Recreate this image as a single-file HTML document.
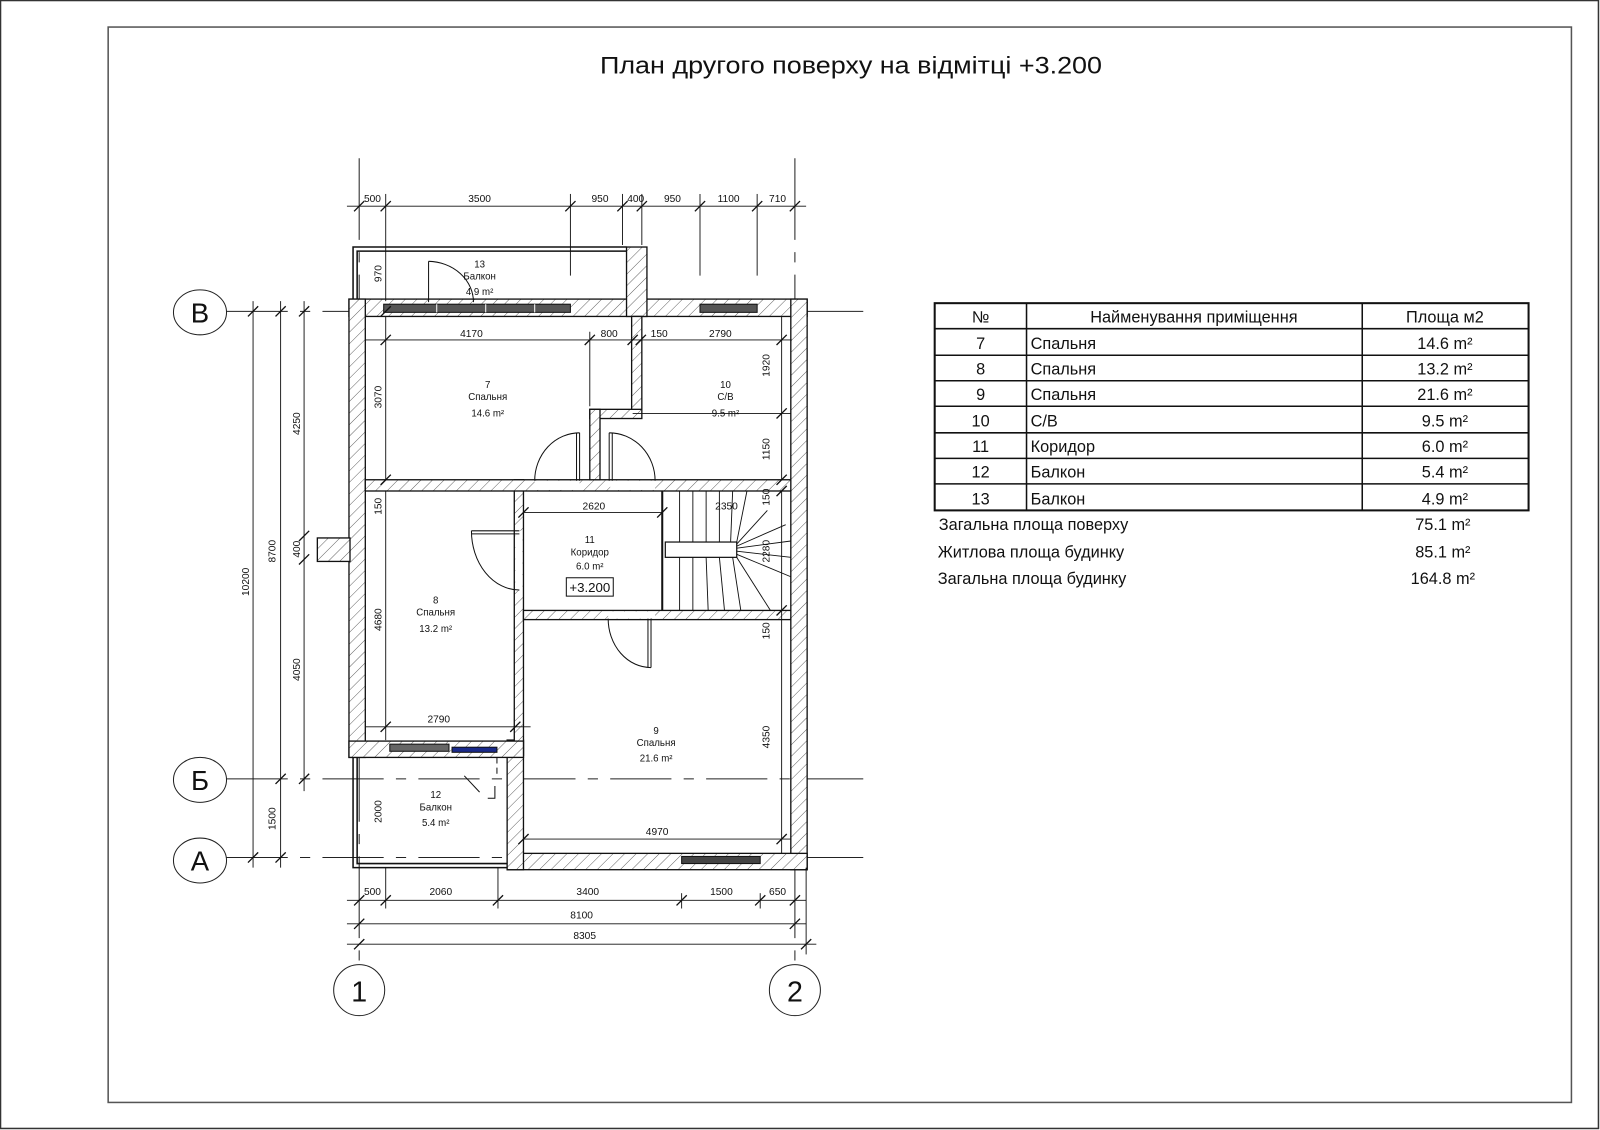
<!DOCTYPE html>
<html><head><meta charset="utf-8"><style>
html,body{margin:0;padding:0;background:#fff;}
svg{display:block;}
text{font-family:"Liberation Sans",sans-serif;fill:#111;}
.d{font-size:10px;}
.r{font-size:9.5px;}
.t{font-size:16px;}
</style></head><body>
<svg width="1600" height="1130" viewBox="0 0 1568 1107" preserveAspectRatio="none" xmlns="http://www.w3.org/2000/svg">
<defs>
<pattern id="h" width="8" height="8" patternUnits="userSpaceOnUse" patternTransform="rotate(45)">
<rect width="8" height="8" fill="#fff"/><line x1="0" y1="0" x2="0" y2="8" stroke="#555" stroke-width="0.9"/>
</pattern>
</defs>
<rect x="0.5" y="0.5" width="1566" height="1105" fill="none" stroke="#333" stroke-width="1.5"/>
<rect x="106" y="26.5" width="1434" height="1053.5" fill="none" stroke="#555" stroke-width="1.5"/>
<text x="588" y="72" font-size="24" textLength="492" lengthAdjust="spacingAndGlyphs">План другого поверху на відмітці +3.200</text>

<!-- grid lines -->
<g stroke="#222" stroke-width="1" fill="none">
<line x1="222" y1="305" x2="850" y2="305" stroke-dasharray="60,12,10,12"/>
<line x1="222" y1="763" x2="850" y2="763" stroke-dasharray="60,12,10,12"/>
<line x1="222" y1="840" x2="850" y2="840" stroke-dasharray="60,12,10,12"/>
<line x1="352" y1="155" x2="352" y2="945" stroke-dasharray="80,12,10,12"/>
<line x1="779" y1="155" x2="779" y2="945" stroke-dasharray="80,12,10,12"/>
<ellipse cx="196" cy="306" rx="26" ry="22"/>
<ellipse cx="196" cy="764" rx="26" ry="22"/>
<ellipse cx="196" cy="843" rx="26" ry="22"/>
<circle cx="352" cy="970" r="25"/>
<circle cx="779" cy="970" r="25"/>
</g>
<text x="196" y="316" font-size="27" text-anchor="middle">В</text>
<text x="196" y="774" font-size="27" text-anchor="middle">Б</text>
<text x="196" y="853" font-size="27" text-anchor="middle">А</text>
<text x="352" y="981" font-size="28" text-anchor="middle">1</text>
<text x="779" y="981" font-size="28" text-anchor="middle">2</text>

<!-- walls -->
<g fill="url(#h)" stroke="#111" stroke-width="1.3">
<rect x="342" y="293" width="449" height="17"/>
<rect x="342" y="293" width="16" height="449"/>
<rect x="775" y="293" width="16" height="559"/>
<rect x="497" y="836" width="294" height="16"/>
<rect x="497" y="725" width="16" height="127"/>
<rect x="504" y="470" width="9" height="270"/>
<rect x="342" y="726" width="171" height="16"/>
<rect x="358" y="470" width="417" height="11"/>
<rect x="614" y="242" width="20" height="68"/>
<rect x="619" y="310" width="10" height="99"/>
<rect x="578" y="401" width="51" height="9"/>
<rect x="578" y="401" width="10" height="69"/>
<rect x="513" y="598" width="262" height="9"/>
<rect x="311" y="527" width="32" height="23"/>
</g>
<!-- windows / openings -->
<g stroke="#111" stroke-width="1">
<rect x="376" y="298" width="183" height="8" fill="#555"/>
<line x1="428" y1="298" x2="428" y2="306" stroke="#fff"/>
<line x1="476" y1="298" x2="476" y2="306" stroke="#fff"/>
<line x1="524" y1="298" x2="524" y2="306" stroke="#fff"/>
<rect x="686" y="298" width="56" height="8" fill="#555"/>
<rect x="668" y="839" width="77" height="7" fill="#444"/>
<rect x="382" y="729" width="58" height="7" fill="#666"/>
<rect x="443" y="732" width="44" height="5" fill="#1a2a8a"/>
</g>
<g fill="#fff" stroke="none">
<rect x="524" y="471" width="44" height="9"/>
<rect x="598" y="471" width="44" height="9"/>
<rect x="505" y="520" width="7" height="58"/>
<rect x="596" y="599" width="46" height="7"/>
</g>
<!-- balconies -->
<g fill="none" stroke="#111" stroke-width="1.5">
<path d="M346 293 V242 H614"/>
<path d="M350 293 V246 H614"/>
<path d="M346 742 V850 H497"/>
<path d="M350 742 V846 H497"/>
</g>
<!-- doors -->
<g fill="none" stroke="#111" stroke-width="1">
<line x1="568" y1="471" x2="568" y2="424"/><line x1="565" y1="471" x2="565" y2="424"/>
<path d="M568 424 A44 47 0 0 0 524 471"/>
<line x1="597" y1="471" x2="597" y2="424"/><line x1="600" y1="471" x2="600" y2="424"/>
<path d="M597 424 A45 47 0 0 1 642 471"/>
<line x1="509" y1="520" x2="462" y2="520"/><line x1="509" y1="523" x2="462" y2="523"/>
<path d="M462 520 A47 58 0 0 0 509 578"/>
<line x1="638" y1="606" x2="638" y2="654"/><line x1="635" y1="606" x2="635" y2="654"/>
<path d="M596 606 A42 48 0 0 0 638 654"/>
<path d="M420 256 V296"/><path d="M420 256 A45 40 0 0 1 464 296"/>
<path d="M455 760 L470 776"/><path d="M485 770 V782 H478"/><line x1="487" y1="742" x2="487" y2="762" stroke-dasharray="6,4"/>
</g>
<!-- stairs -->
<g fill="none" stroke="#111" stroke-width="0.9">
<line x1="649" y1="481" x2="649" y2="598" stroke-width="2"/>
<rect x="652" y="531" width="70" height="15" stroke-width="1.2"/>
<line x1="666" y1="481" x2="666" y2="531"/><line x1="679" y1="481" x2="679" y2="531"/>
<line x1="692" y1="481" x2="692" y2="531"/><line x1="705" y1="481" x2="705" y2="531"/>
<line x1="718" y1="481" x2="716" y2="531"/>
<line x1="666" y1="546" x2="666" y2="598"/><line x1="679" y1="546" x2="679" y2="598"/>
<line x1="692" y1="546" x2="694" y2="598"/><line x1="705" y1="546" x2="710" y2="598"/>
<line x1="718" y1="546" x2="726" y2="598"/>
<line x1="722" y1="531" x2="732" y2="481"/><line x1="722" y1="533" x2="752" y2="500"/>
<line x1="722" y1="535" x2="770" y2="514"/><line x1="722" y1="537" x2="775" y2="530"/>
<line x1="722" y1="540" x2="775" y2="546"/><line x1="722" y1="543" x2="775" y2="565"/>
<line x1="722" y1="546" x2="755" y2="598"/>
</g>
<rect x="555" y="566" width="46" height="18" fill="none" stroke="#111" stroke-width="1"/>
<text x="578" y="580" font-size="13" text-anchor="middle">+3.200</text>

<!-- dimension lines -->
<g stroke="#111" stroke-width="0.9" fill="none">
<line x1="340" y1="202" x2="790" y2="202"/>
<line x1="378" y1="190" x2="378" y2="295"/><line x1="559" y1="190" x2="559" y2="270"/>
<line x1="610" y1="190" x2="610" y2="240"/><line x1="629" y1="190" x2="629" y2="240"/>
<line x1="686" y1="190" x2="686" y2="270"/><line x1="742" y1="190" x2="742" y2="270"/>
<line x1="340" y1="882" x2="790" y2="882"/><line x1="340" y1="905" x2="790" y2="905"/><line x1="340" y1="925" x2="800" y2="925"/>
<line x1="378" y1="850" x2="378" y2="890"/><line x1="488" y1="850" x2="488" y2="890"/>
<line x1="668" y1="875" x2="668" y2="890"/><line x1="745" y1="875" x2="745" y2="890"/>
<line x1="790" y1="850" x2="790" y2="935"/>
<line x1="248" y1="295" x2="248" y2="850"/><line x1="275" y1="295" x2="275" y2="850"/><line x1="298" y1="295" x2="298" y2="775"/>
<line x1="358" y1="333" x2="776" y2="333"/><line x1="578" y1="325" x2="578" y2="398"/>
<line x1="513" y1="502" x2="649" y2="502"/><line x1="358" y1="712" x2="520" y2="712"/>
<line x1="513" y1="822" x2="775" y2="822"/>
<line x1="620" y1="405" x2="775" y2="405"/>
<line x1="378" y1="310" x2="378" y2="470"/><line x1="378" y1="481" x2="378" y2="725"/>
<line x1="766" y1="310" x2="766" y2="470"/><line x1="766" y1="481" x2="766" y2="836"/>
</g>
<g stroke="#111" stroke-width="1.3">
<path d="M347 207l10-10M373 207l10-10M554 207l10-10M605 207l10-10M624 207l10-10M681 207l10-10M737 207l10-10M774 207l10-10"/>
<path d="M347 887l10-10M373 887l10-10M483 887l10-10M663 887l10-10M740 887l10-10M774 887l10-10"/>
<path d="M347 910l10-10M774 910l10-10M347 930l10-10M785 930l10-10"/>
<path d="M243 310l10-10M270 310l10-10M293 310l10-10M293 530l10-10M293 553l10-10M270 768l10-10M293 768l10-10M243 845l10-10M270 845l10-10"/>
<path d="M373 338l10-10M573 338l10-10M615 338l10-10M623 338l10-10M761 338l10-10"/>
<path d="M508 507l10-10M644 507l10-10M373 717l10-10M500 717l10-10M508 827l10-10M761 827l10-10"/>
<path d="M373 310l10-10M761 410l10-10M373 475l10-10M761 475l10-10M761 486l10-10M761 603l10-10"/>
</g>
<g class="d" text-anchor="middle">
<text x="365" y="198">500</text><text x="470" y="198">3500</text><text x="588" y="198">950</text><text x="623" y="198">400</text><text x="659" y="198">950</text><text x="714" y="198">1100</text><text x="762" y="198">710</text>
<text x="365" y="877">500</text><text x="432" y="877">2060</text><text x="576" y="877">3400</text><text x="707" y="877">1500</text><text x="762" y="877">650</text>
<text x="570" y="900">8100</text><text x="573" y="920">8305</text>
<text x="462" y="330">4170</text><text x="597" y="330">800</text><text x="646" y="330">150</text><text x="706" y="330">2790</text>
<text x="582" y="499">2620</text><text x="712" y="499">2350</text><text x="430" y="708">2790</text><text x="644" y="818">4970</text>
</g>
<g class="d" text-anchor="middle">
<text transform="translate(244,570) rotate(-90)">10200</text>
<text transform="translate(270,540) rotate(-90)">8700</text>
<text transform="translate(270,802) rotate(-90)">1500</text>
<text transform="translate(294,415) rotate(-90)">4250</text>
<text transform="translate(294,538) rotate(-90)">400</text>
<text transform="translate(294,656) rotate(-90)">4050</text>
<text transform="translate(374,268) rotate(-90)">970</text>
<text transform="translate(374,389) rotate(-90)">3070</text>
<text transform="translate(374,496) rotate(-90)">150</text>
<text transform="translate(374,607) rotate(-90)">4680</text>
<text transform="translate(374,795) rotate(-90)">2000</text>
<text transform="translate(754,358) rotate(-90)">1920</text>
<text transform="translate(754,440) rotate(-90)">1150</text>
<text transform="translate(754,487) rotate(-90)">150</text>
<text transform="translate(754,540) rotate(-90)">2280</text>
<text transform="translate(754,618) rotate(-90)">150</text>
<text transform="translate(754,722) rotate(-90)">4350</text>
</g>
<g class="r" text-anchor="middle">
<text x="470" y="262">13</text><text x="470" y="274">Балкон</text><text x="470" y="289">4.9 m²</text>
<text x="478" y="380">7</text><text x="478" y="392">Спальня</text><text x="478" y="408">14.6 m²</text>
<text x="711" y="380">10</text><text x="711" y="392">С/В</text><text x="711" y="408">9.5 m²</text>
<text x="578" y="532">11</text><text x="578" y="544">Коридор</text><text x="578" y="558">6.0 m²</text>
<text x="427" y="591">8</text><text x="427" y="603">Спальня</text><text x="427" y="619">13.2 m²</text>
<text x="643" y="719">9</text><text x="643" y="731">Спальня</text><text x="643" y="746">21.6 m²</text>
<text x="427" y="782">12</text><text x="427" y="794">Балкон</text><text x="427" y="809">5.4 m²</text>
</g>

<!-- table -->
<g stroke="#111" fill="none">
<rect x="916" y="297" width="582" height="203" stroke-width="2"/>
<g stroke-width="1.5">
<line x1="916" y1="322" x2="1498" y2="322"/><line x1="916" y1="348" x2="1498" y2="348"/>
<line x1="916" y1="373" x2="1498" y2="373"/><line x1="916" y1="398" x2="1498" y2="398"/>
<line x1="916" y1="424" x2="1498" y2="424"/><line x1="916" y1="449" x2="1498" y2="449"/>
<line x1="916" y1="474" x2="1498" y2="474"/>
<line x1="1006" y1="297" x2="1006" y2="500"/><line x1="1335" y1="297" x2="1335" y2="500"/>
</g></g>
<g class="t">
<text x="961" y="316" text-anchor="middle">№</text>
<text x="1170" y="316" text-anchor="middle">Найменування приміщення</text>
<text x="1416" y="316" text-anchor="middle">Площа м2</text>
<g text-anchor="middle">
<text x="961" y="342">7</text><text x="961" y="367">8</text><text x="961" y="392">9</text><text x="961" y="418">10</text><text x="961" y="443">11</text><text x="961" y="468">12</text><text x="961" y="494">13</text>
<text x="1416" y="342">14.6 m²</text><text x="1416" y="367">13.2 m²</text><text x="1416" y="392">21.6 m²</text><text x="1416" y="418">9.5 m²</text><text x="1416" y="443">6.0 m²</text><text x="1416" y="468">5.4 m²</text><text x="1416" y="494">4.9 m²</text>
<text x="1414" y="519">75.1 m²</text><text x="1414" y="546">85.1 m²</text><text x="1414" y="572">164.8 m²</text>
</g>
<text x="1010" y="342">Спальня</text><text x="1010" y="367">Спальня</text><text x="1010" y="392">Спальня</text><text x="1010" y="418">С/В</text><text x="1010" y="443">Коридор</text><text x="1010" y="468">Балкон</text><text x="1010" y="494">Балкон</text>
<text x="920" y="519">Загальна площа поверху</text>
<text x="919" y="546">Житлова площа будинку</text>
<text x="919" y="572">Загальна площа будинку</text>
</g>
</svg>
</body></html>
